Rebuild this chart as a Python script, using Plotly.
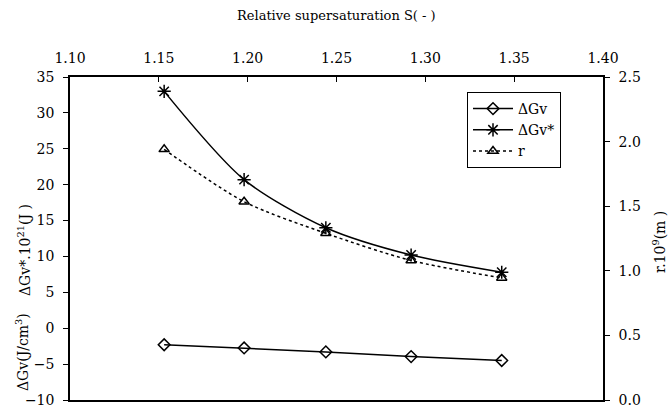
import plotly.graph_objects as go

S = [1.153, 1.198, 1.244, 1.292, 1.343]
dGv = [-2.3, -2.75, -3.3, -3.95, -4.5]
dGv_star = [33.0, 20.7, 14.0, 10.2, 7.8]
r = [1.94, 1.535, 1.29, 1.08, 0.945]

FONT = "DejaVu Serif"
L, R, T, B = 70, 65, 77, 9
W, H = 668, 409
pw = W - L - R
ph = H - T - B
bottom = H - B

def px(x):
    return (x - L) / pw

def py(y):
    return (bottom - y) / ph

fig = go.Figure()
fig.add_trace(go.Scatter(
    x=S, y=dGv, name="ΔGv", mode="lines+markers",
    line=dict(color="black", width=1.5),
    marker=dict(symbol="diamond-open", size=9, color="black", line=dict(width=1.5)),
))
fig.add_trace(go.Scatter(
    x=S, y=dGv_star, name="ΔGv*", mode="lines+markers",
    line=dict(color="black", width=1.5, shape="spline", smoothing=0.8),
    marker=dict(symbol="asterisk-open", size=11, color="black", line=dict(width=1.5, color="black")),
))
fig.add_trace(go.Scatter(
    x=S, y=r, name="r", mode="lines+markers", yaxis="y2",
    line=dict(color="black", width=1.5, dash="dot", shape="spline", smoothing=0.8),
    marker=dict(symbol="triangle-up-open", size=9, color="black", line=dict(width=1.5)),
))

axis_common = dict(showgrid=False, zeroline=False, showline=True, linecolor="black",
                   linewidth=1.5, ticklen=5, tickcolor="black",
                   ticklabeloverflow="allow", automargin=False,
                   tickfont=dict(family=FONT, size=14, color="black"))

fig.update_layout(
    width=W, height=H,
    margin=dict(l=L, r=R, t=T, b=B, autoexpand=False),
    paper_bgcolor="white", plot_bgcolor="white",
    font=dict(family=FONT, size=14, color="black"),
    showlegend=True,
    legend=dict(x=px(467), y=py(92), xanchor="left", yanchor="top",
                bordercolor="black", borderwidth=1, bgcolor="white",
                font=dict(family=FONT, size=14, color="black"),
                tracegroupgap=0, itemwidth=40),
    xaxis=dict(range=[1.10, 1.40], dtick=0.05, tick0=1.10, tickformat=".2f",
               side="top", mirror=True, ticks="inside", ticklabelstandoff=7,
               **axis_common),
    yaxis=dict(range=[-10, 35], dtick=5, tick0=-10, ticks="outside",
               ticklabelstandoff=6, **axis_common),
    yaxis2=dict(range=[0, 2.5], dtick=0.5, tick0=0, tickformat=".1f", overlaying="y",
                side="right", ticks="outside", ticklabelstandoff=6, **axis_common),
)

fig.add_annotation(text="Relative supersaturation S( - )", xref="paper", yref="paper",
                   x=0.5, y=py(15), xanchor="center", yanchor="middle",
                   showarrow=False, font=dict(family=FONT, size=13))
fig.add_annotation(text="ΔGv*.10<sup>21</sup>(J )", xref="paper", yref="paper",
                   x=px(24), y=py(250), xanchor="center", yanchor="middle",
                   textangle=-90, showarrow=False, font=dict(family=FONT, size=14))
fig.add_annotation(text="ΔGv(J/cm<sup>3</sup>)", xref="paper", yref="paper",
                   x=px(22), y=py(352), xanchor="center", yanchor="middle",
                   textangle=-90, showarrow=False, font=dict(family=FONT, size=14))
fig.add_annotation(text="r.10<sup>9</sup>(m )", xref="paper", yref="paper",
                   x=px(659), y=py(242), xanchor="center", yanchor="middle",
                   textangle=-90, showarrow=False, font=dict(family=FONT, size=14))

fig.write_html("out.html")
